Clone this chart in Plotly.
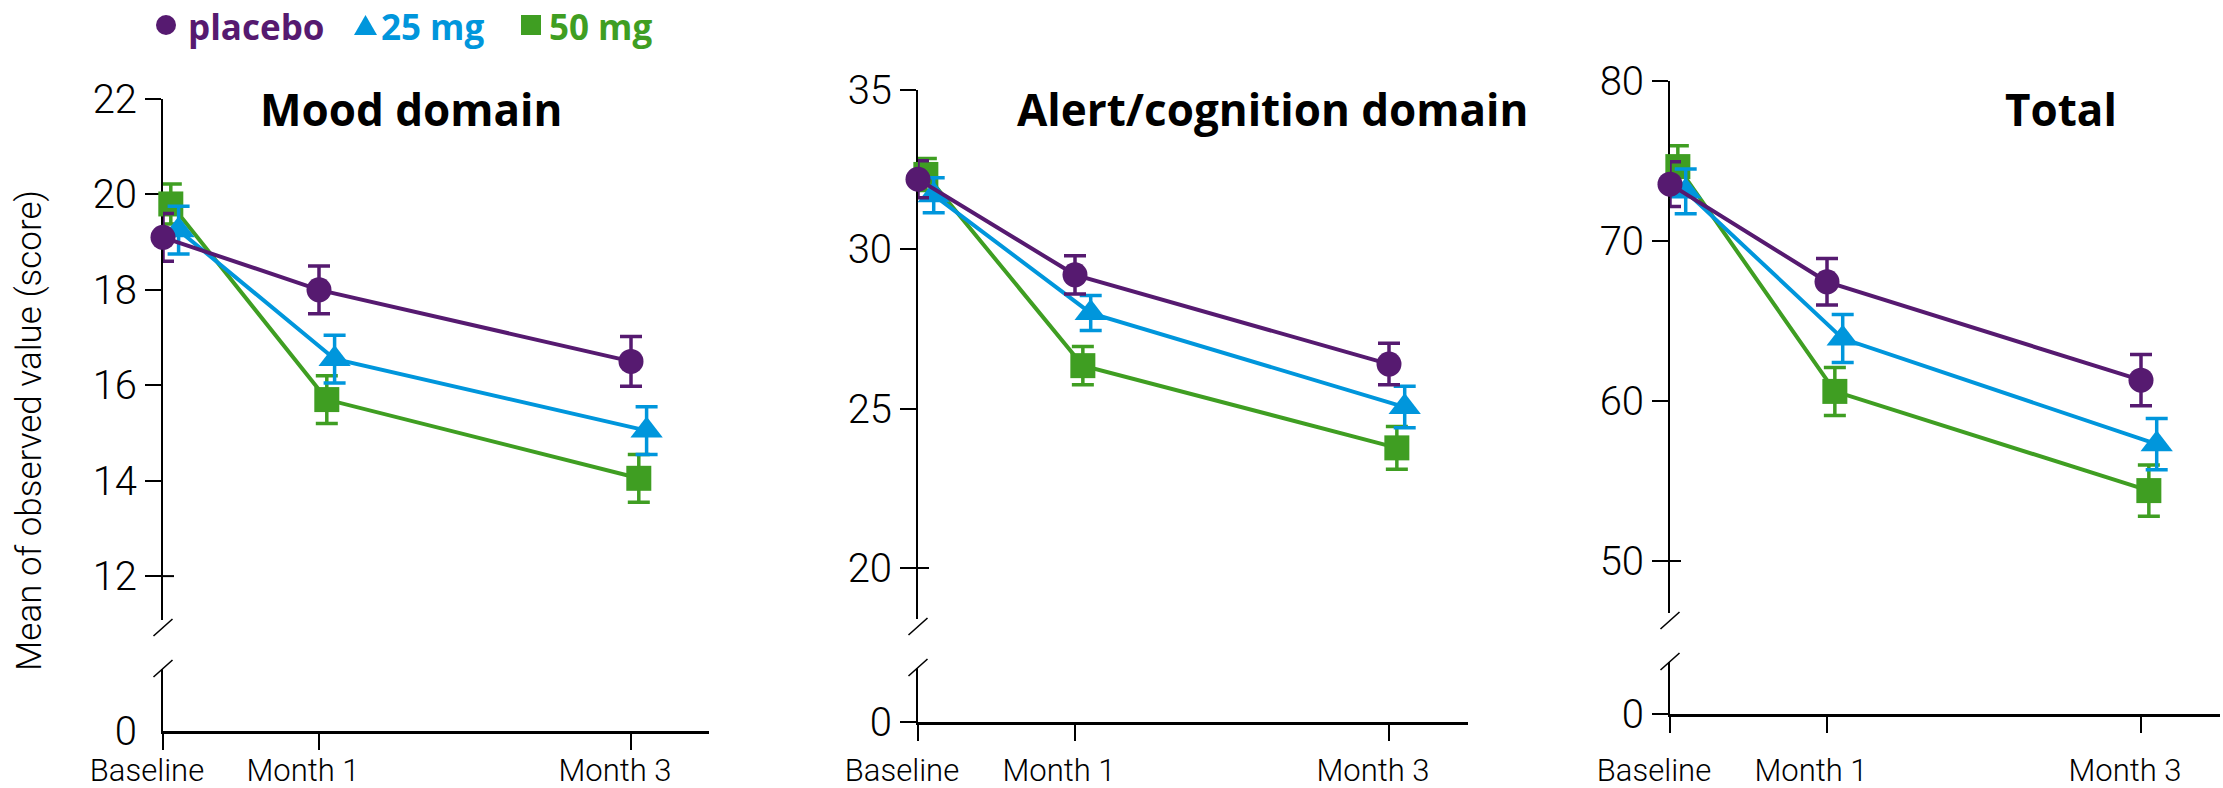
import plotly.graph_objects as go

# ---- data -------------------------------------------------------------
TIMEPOINTS = [0, 1, 3]
TICK_LABELS = ["Baseline", "Month 1", "Month 3"]
GROUPS = ["placebo", "25 mg", "50 mg"]
PANEL_TITLES = ["Mood domain", "Alert/cognition domain", "Total"]
Y_AXIS_TITLE = "Mean of observed value (score)"

mood_placebo = [19.1, 18.0, 16.5]
mood_placebo_err = [0.5, 0.5, 0.52]
mood_25mg = [19.25, 16.55, 15.05]
mood_25mg_err = [0.5, 0.5, 0.5]
mood_50mg = [19.8, 15.7, 14.05]
mood_50mg_err = [0.42, 0.5, 0.5]

alert_placebo = [32.2, 29.2, 26.4]
alert_placebo_err = [0.58, 0.6, 0.65]
alert_25mg = [31.7, 28.0, 25.05]
alert_25mg_err = [0.55, 0.55, 0.65]
alert_50mg = [32.35, 26.35, 23.77]
alert_50mg_err = [0.5, 0.6, 0.67]

total_placebo = [73.55, 67.45, 61.3]
total_placebo_err = [1.4, 1.45, 1.6]
total_25mg = [73.1, 63.9, 57.3]
total_25mg_err = [1.4, 1.5, 1.6]
total_50mg = [74.65, 60.6, 54.4]
total_50mg_err = [1.3, 1.5, 1.6]

mood_ticks = [12, 14, 16, 18, 20, 22]
alert_ticks = [20, 25, 30, 35]
total_ticks = [50, 60, 70, 80]

# ---- styling ------------------------------------------------------------
W, H = 2223, 788
COLORS = {"placebo": "#561a70", "25 mg": "#0096dc", "50 mg": "#3f9e22"}
SYMBOLS = {"placebo": "circle", "25 mg": "triangle-up", "50 mg": "square"}
SIZES = {"placebo": 25, "25 mg": 28, "50 mg": 25}
DODGE = {"placebo": 0.0, "50 mg": 0.05, "25 mg": 0.1}
DRAW_ORDER = ["50 mg", "25 mg", "placebo"]
FONT = "Roboto"
BOLD_FONT = "Open Sans"


def px(x):
    return x / W


def py(y):
    return 1 - y / H


def axid(letter, n):
    """Short axis id as used by traces/anchors: 'x', 'x2', 'y', 'y3' ..."""
    return letter if n == 1 else f"{letter}{n}"


def axkey(letter, n):
    """Layout key: 'xaxis', 'xaxis2', 'yaxis', 'yaxis3' ..."""
    return f"{letter}axis" if n == 1 else f"{letter}axis{n}"


panels = [
    dict(
        title=PANEL_TITLES[0], title_x=411,
        series={"placebo": (mood_placebo, mood_placebo_err),
                "25 mg": (mood_25mg, mood_25mg_err),
                "50 mg": (mood_50mg, mood_50mg_err)},
        ticks=mood_ticks, yrange=[11.08, 22],
        ax=163, xr=709, ut=99, ub=620, lt=669, lb=731,
        standoff=-6, zero_tick="rgba(0,0,0,0)",
    ),
    dict(
        title=PANEL_TITLES[1], title_x=1272,
        series={"placebo": (alert_placebo, alert_placebo_err),
                "25 mg": (alert_25mg, alert_25mg_err),
                "50 mg": (alert_50mg, alert_50mg_err)},
        ticks=alert_ticks, yrange=[18.4, 35],
        ax=918, xr=1467.5, ut=90, ub=619, lt=668, lb=722,
        standoff=3, zero_tick="black",
    ),
    dict(
        title=PANEL_TITLES[2], title_x=2061,
        series={"placebo": (total_placebo, total_placebo_err),
                "25 mg": (total_25mg, total_25mg_err),
                "50 mg": (total_50mg, total_50mg_err)},
        ticks=total_ticks, yrange=[46.75, 80],
        ax=1670, xr=2219.5, ut=81, ub=613, lt=662, lb=714,
        standoff=11, zero_tick="black",
    ),
]

fig = go.Figure()
layout = dict(
    width=W, height=H,
    margin=dict(l=0, r=0, t=0, b=0, pad=0, autoexpand=False),
    paper_bgcolor="white", plot_bgcolor="white",
    font=dict(family=FONT, color="black"),
    showlegend=False,
)
shapes = []
annotations = []

for i, p in enumerate(panels, start=1):
    yu = 2 * i - 1
    yl = 2 * i
    xa, ya_up, ya_lo = axid("x", i), axid("y", yu), axid("y", yl)

    for g in DRAW_ORDER:
        vals, err = p["series"][g]
        c = COLORS[g]
        fig.add_trace(go.Scatter(
            x=[t + DODGE[g] for t in TIMEPOINTS], y=vals,
            mode="lines+markers",
            line=dict(color=c, width=4),
            marker=dict(symbol=SYMBOLS[g], size=SIZES[g], color=c, line=dict(width=0)),
            error_y=dict(type="data", array=err, color=c, thickness=3.5, width=11),
            xaxis=xa, yaxis=ya_up, cliponaxis=False, name=g,
        ))

    # invisible point keeps the lower (broken) y axis as a real subplot
    fig.add_trace(go.Scatter(x=[None], y=[None], xaxis=xa, yaxis=ya_lo,
                             mode="markers", hoverinfo="skip", showlegend=False))

    layout[axkey("x", i)] = dict(
        domain=[px(p["ax"]), px(p["xr"])], range=[0, 3.5], anchor=ya_lo,
        showline=True, linewidth=2.6, linecolor="black",
        ticks="outside", ticklen=16, tickwidth=2, tickcolor="black",
        tickvals=TIMEPOINTS, ticktext=TICK_LABELS,
        tickfont=dict(size=31, weight=300, family=FONT),
        ticklabelshift=-16, ticklabelstandoff=p["standoff"],
        showgrid=False, zeroline=False, automargin=False,
    )
    layout[axkey("y", yu)] = dict(
        domain=[py(p["ub"]), py(p["ut"])], range=p["yrange"], anchor=xa,
        showline=True, linewidth=2, linecolor="black",
        ticks="outside", ticklen=16, tickwidth=2, tickcolor="black",
        tickvals=p["ticks"], tickfont=dict(size=40, weight=300, family=FONT),
        showgrid=False, zeroline=False, layer="below traces", automargin=False,
    )
    layout[axkey("y", yl)] = dict(
        domain=[py(p["lb"]), py(p["lt"])], range=[0, 1], anchor=xa,
        showline=True, linewidth=2, linecolor="black",
        ticks="outside", ticklen=16, tickwidth=2, tickcolor=p["zero_tick"],
        tickvals=[0], tickfont=dict(size=40, weight=300, family=FONT),
        showgrid=False, zeroline=False, layer="below traces", automargin=False,
    )

    # lowest tick crosses the axis line
    shapes.append(dict(type="line", xref="paper", yref=ya_up,
                       x0=px(p["ax"]), x1=px(p["ax"] + 11),
                       y0=p["ticks"][0], y1=p["ticks"][0],
                       line=dict(color="black", width=2)))

    # axis break marks
    ax, ub, lt = p["ax"], p["ub"], p["lt"]
    for (x0, y0, x1, y1) in [(ax - 9.5, ub + 16, ax + 9.5, ub - 1),
                             (ax - 9.5, lt + 8, ax + 9.5, lt - 9)]:
        shapes.append(dict(type="line", xref="paper", yref="paper",
                           x0=px(x0), y0=py(y0), x1=px(x1), y1=py(y1),
                           line=dict(color="black", width=1.6)))

    annotations.append(dict(
        text=f"<b>{p['title']}</b>", xref="paper", yref="paper",
        x=px(p["title_x"]), y=py(109), xanchor="center", yanchor="middle",
        showarrow=False, font=dict(size=44, family=BOLD_FONT, color="black"),
    ))

# y-axis title
annotations.append(dict(
    text=Y_AXIS_TITLE, xref="paper", yref="paper", x=px(30), y=py(431),
    xanchor="center", yanchor="middle", textangle=-90, showarrow=False,
    font=dict(size=35, weight=300, family=FONT, color="black"),
))

# legend: marker glyphs drawn as shapes, labels as coloured text
c = COLORS
shapes.append(dict(type="circle", xref="paper", yref="paper",
                   x0=px(156), x1=px(176), y0=py(35), y1=py(15),
                   fillcolor=c["placebo"], line=dict(width=0)))
shapes.append(dict(type="path", xref="paper", yref="paper",
                   path=f"M{px(354)},{py(35)} L{px(377)},{py(35)} L{px(365.5)},{py(15)} Z",
                   fillcolor=c["25 mg"], line=dict(width=0)))
shapes.append(dict(type="rect", xref="paper", yref="paper",
                   x0=px(521), x1=px(541), y0=py(35), y1=py(15),
                   fillcolor=c["50 mg"], line=dict(width=0)))
for g, x_left in [("placebo", 186), ("25 mg", 379), ("50 mg", 547)]:
    annotations.append(dict(
        text=f"<b>{g}</b>", xref="paper", yref="paper",
        x=px(x_left), y=py(27), xanchor="left", yanchor="middle",
        showarrow=False, font=dict(size=35, family=BOLD_FONT, color=c[g]),
    ))

layout["shapes"] = shapes
layout["annotations"] = annotations
fig.update_layout(**layout)

fig.write_html("out.html")
